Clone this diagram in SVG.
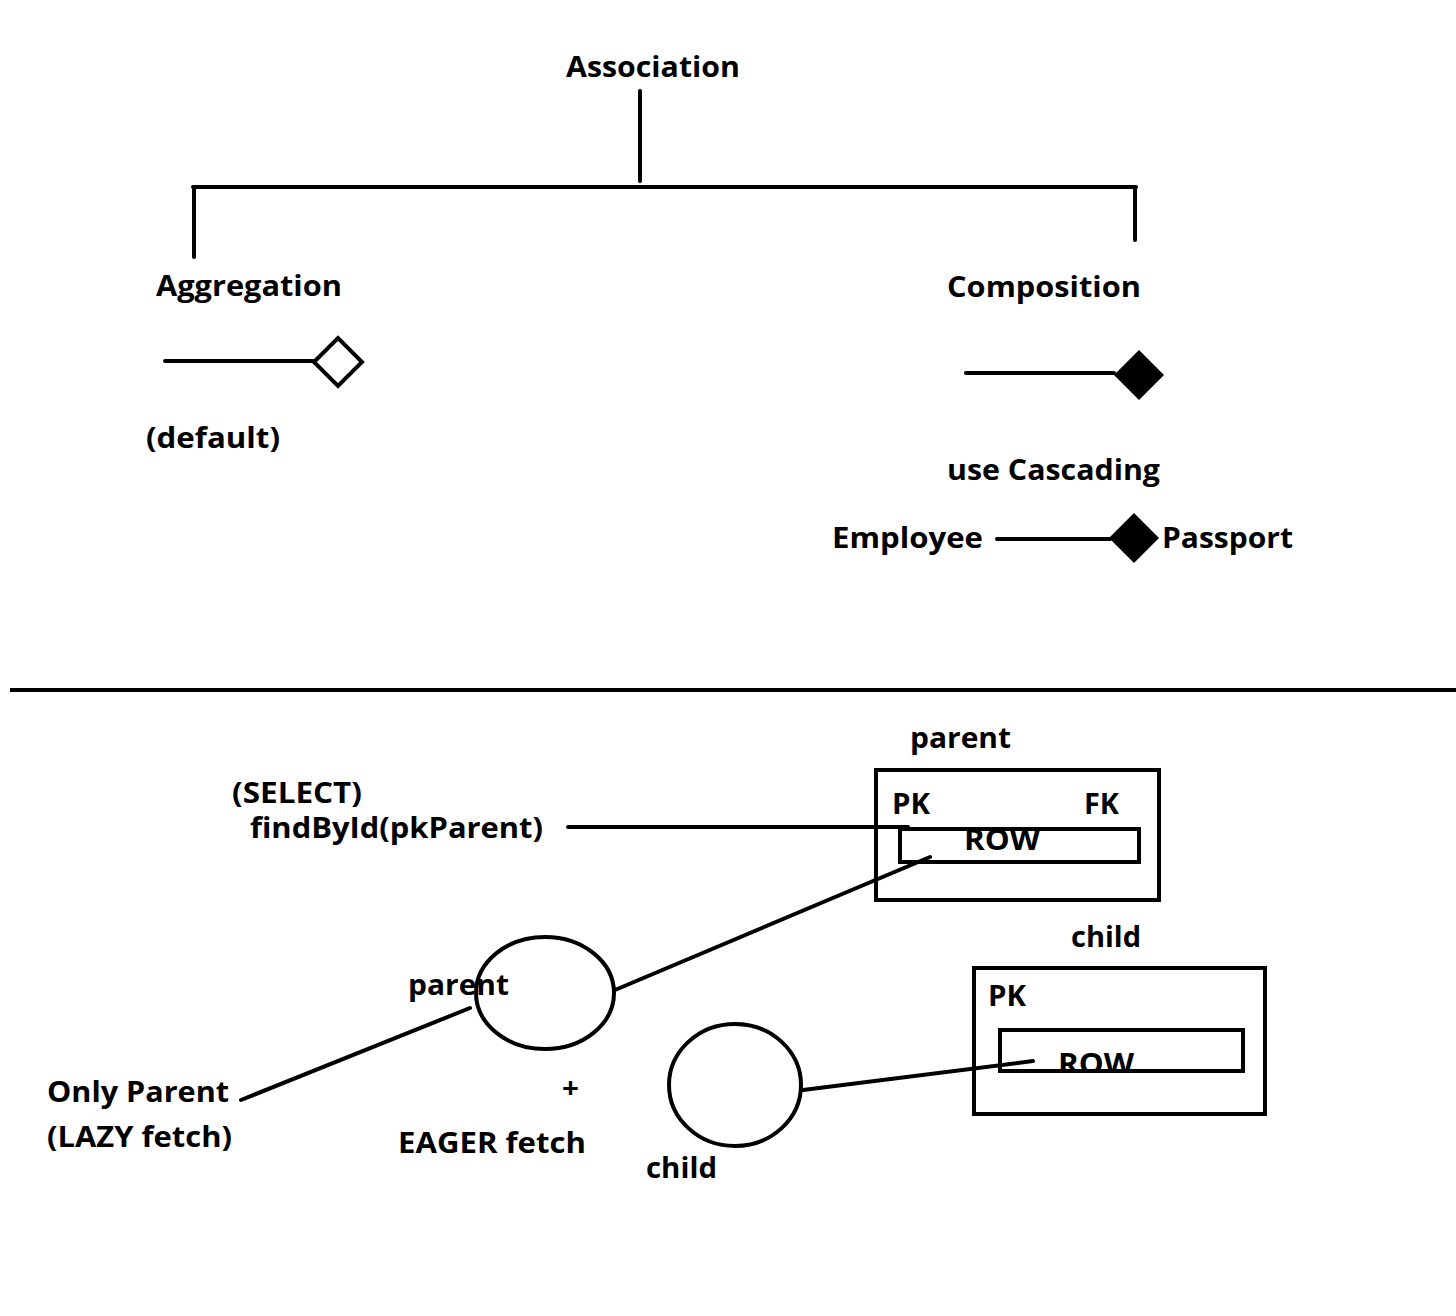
<svg xmlns="http://www.w3.org/2000/svg" width="1456" height="1316" viewBox="0 0 1456 1316">
<style>
  text { font-family: "Open Sans", "Liberation Sans", sans-serif; font-weight: 700; font-size: 29px; fill: #000; }
  .ln { stroke: #000; stroke-width: 4; fill: none; stroke-linecap: round; }
  .box { stroke: #000; stroke-width: 4; fill: none; }
</style>
<defs>
  <clipPath id="clipRow2"><rect x="990" y="1020" width="260" height="51"/></clipPath>
</defs>
<rect width="1456" height="1316" fill="#fff"/>

<g id="connectors">
  <line class="ln" x1="640" y1="91" x2="640" y2="181" stroke-width="3"/>
  <line class="ln" x1="193" y1="187" x2="1136" y2="187"/>
  <line class="ln" x1="194" y1="188" x2="194" y2="257"/>
  <line class="ln" x1="1135" y1="188" x2="1135" y2="240"/>
  <line class="ln" x1="165" y1="361" x2="314" y2="361"/>
  <line class="ln" x1="966" y1="373" x2="1114" y2="373"/>
  <line class="ln" x1="997" y1="539" x2="1110" y2="539"/>
  <line class="ln" x1="568" y1="827" x2="908" y2="827"/>
  <line class="ln" x1="615" y1="990" x2="930" y2="857"/>
  <line class="ln" x1="241" y1="1100" x2="470" y2="1008"/>
  <line class="ln" x1="803" y1="1090" x2="1033" y2="1061"/>
</g>

<g id="separator">
  <line x1="10" y1="690" x2="1456" y2="690" stroke="#000" stroke-width="4"/>
</g>

<g id="association"><text x="566" y="77" textLength="174" lengthAdjust="spacingAndGlyphs">Association</text></g>
<g id="aggregation"><text x="156" y="296" textLength="186" lengthAdjust="spacingAndGlyphs">Aggregation</text></g>
<g id="composition"><text x="947" y="297" textLength="194" lengthAdjust="spacingAndGlyphs">Composition</text></g>

<g id="aggregation-symbol">
  <polygon points="314,362 338,338 362,362 338,386" fill="#fff" stroke="#000" stroke-width="4" stroke-linejoin="miter"/>
</g>
<g id="default-label"><text x="146" y="448" textLength="134" lengthAdjust="spacingAndGlyphs">(default)</text></g>

<g id="composition-symbol">
  <polygon points="1114,375 1139,350 1164,375 1139,400" fill="#000"/>
</g>
<g id="cascading-label"><text x="947" y="480" textLength="213" lengthAdjust="spacingAndGlyphs">use Cascading</text></g>

<g id="employee"><text x="832" y="548" textLength="151" lengthAdjust="spacingAndGlyphs">Employee</text></g>
<g id="employee-passport-symbol">
  <polygon points="1109,538 1134,513 1159,538 1134,563" fill="#000"/>
</g>
<g id="passport"><text x="1162" y="548" textLength="131" lengthAdjust="spacingAndGlyphs">Passport</text></g>

<g id="parent-table">
  <text x="910" y="748" textLength="101" lengthAdjust="spacingAndGlyphs">parent</text>
  <rect class="box" x="876" y="770" width="283" height="130"/>
  <text x="892" y="814" textLength="38" lengthAdjust="spacingAndGlyphs">PK</text>
  <text x="1084" y="814" textLength="35" lengthAdjust="spacingAndGlyphs">FK</text>
  <text x="964" y="850" textLength="76" lengthAdjust="spacingAndGlyphs">ROW</text>
  <rect class="box" x="900" y="829" width="239" height="33"/>
</g>

<g id="select-label">
  <text x="232" y="803" textLength="130" lengthAdjust="spacingAndGlyphs">(SELECT)</text>
  <text x="250" y="838" textLength="293" lengthAdjust="spacingAndGlyphs">findById(pkParent)</text>
</g>

<g id="child-table">
  <text x="1071" y="947" textLength="70" lengthAdjust="spacingAndGlyphs">child</text>
  <rect class="box" x="974" y="968" width="291" height="146"/>
  <text x="988" y="1006" textLength="38" lengthAdjust="spacingAndGlyphs">PK</text>
  <text x="1058" y="1074" textLength="76" lengthAdjust="spacingAndGlyphs" clip-path="url(#clipRow2)">ROW</text>
  <rect class="box" x="1000" y="1030" width="243" height="41"/>
</g>

<g id="parent-object">
  <ellipse cx="545" cy="993" rx="69" ry="56" fill="none" stroke="#000" stroke-width="4"/>
  <text x="408" y="995" textLength="101" lengthAdjust="spacingAndGlyphs">parent</text>
</g>

<g id="child-object">
  <ellipse cx="735" cy="1085" rx="66" ry="61" fill="none" stroke="#000" stroke-width="4"/>
  <text x="646" y="1178" textLength="71" lengthAdjust="spacingAndGlyphs">child</text>
</g>

<g id="lazy-label">
  <text x="47" y="1102" textLength="182" lengthAdjust="spacingAndGlyphs">Only Parent</text>
  <text x="47" y="1147" textLength="185" lengthAdjust="spacingAndGlyphs">(LAZY fetch)</text>
</g>

<g id="eager-label">
  <text x="562" y="1098" textLength="17" lengthAdjust="spacingAndGlyphs">+</text>
  <text x="398" y="1153" textLength="188" lengthAdjust="spacingAndGlyphs">EAGER fetch</text>
</g>
</svg>
